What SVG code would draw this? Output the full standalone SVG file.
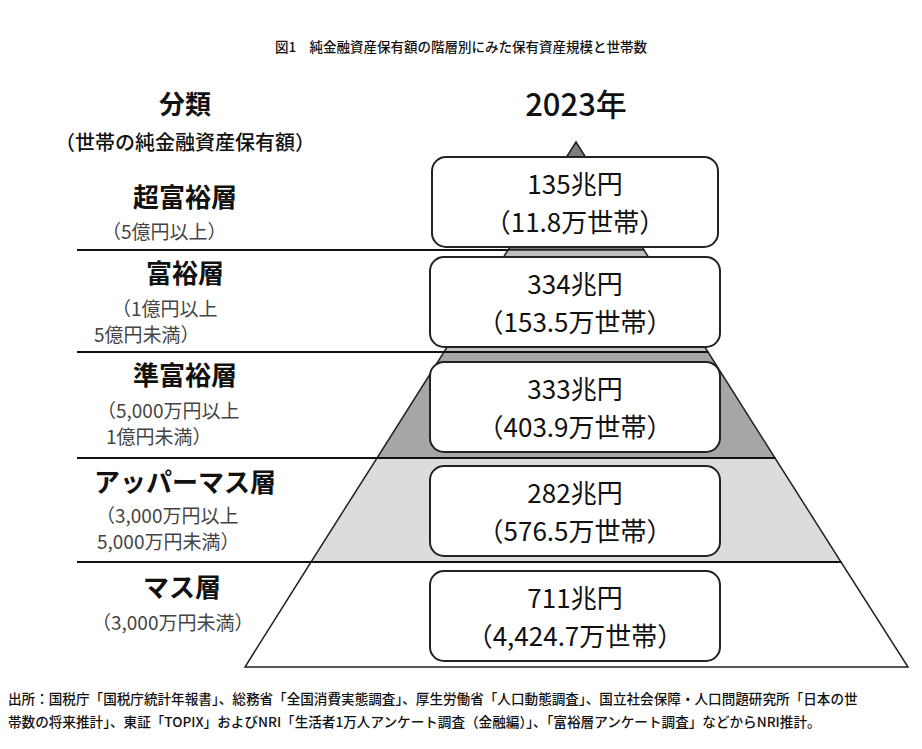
<svg xmlns="http://www.w3.org/2000/svg" width="922" height="749" viewBox="0 0 922 749">
<style>
text{font-family:"Noto Sans CJK JP","Noto Sans",sans-serif;fill:#111}
.h{font-size:26px;font-weight:bold;text-anchor:middle}
.s{font-size:19px;fill:#444}
.box{fill:#fff;stroke:#222;stroke-width:2}
.v{font-size:26px;text-anchor:middle}
.band{stroke:#222;stroke-width:1.5}
.sep{stroke:#111;stroke-width:2}
.f{font-size:13.6px;font-weight:500}
</style>
<rect width="922" height="749" fill="#fff"/>
<text x="461" y="52" font-size="13.5" font-weight="500" text-anchor="middle">図1　純金融資産保有額の階層別にみた保有資産規模と世帯数</text>
<text x="185" y="114" class="h">分類</text>
<text x="185" y="150" font-size="20" font-weight="500" text-anchor="middle">（世帯の純金融資産保有額）</text>
<text x="576" y="116" font-size="31" font-weight="500" text-anchor="middle">2023年</text>
<g id="pyramid">
<polygon class="band" fill="#7f7f7f" points="576,142 508,250 644,250"/>
<polygon class="band" fill="#c0c0c0" points="508,250 644,250 708,352 444,352"/>
<polygon class="band" fill="#a6a6a6" points="444,352 708,352 775,458 377,458"/>
<polygon class="band" fill="#dcdcdc" points="377,458 775,458 841,562 311,562"/>
<polygon class="band" fill="#fff" points="311,562 841,562 908,667 245,667"/>
</g>
<g id="connectors">
<line class="sep" x1="77" y1="250" x2="508" y2="250"/>
<line class="sep" x1="77" y1="352" x2="708" y2="352"/>
<line class="sep" x1="77" y1="458" x2="775" y2="458"/>
<line class="sep" x1="77" y1="562" x2="841" y2="562"/>
</g>
<g id="n1"><text x="185" y="207" class="h">超富裕層</text><text x="102" y="239" class="s">（5億円以上）</text>
<rect class="box" x="432" y="157" width="286" height="90" rx="14"/><text x="575" y="194" class="v">135兆円</text><text x="575" y="232" class="v">（11.8万世帯）</text></g>
<g id="n2"><text x="185" y="283" class="h">富裕層</text><text x="112" y="316" class="s">（1億円以上</text><text x="94" y="342" class="s">5億円未満）</text>
<rect class="box" x="430" y="257" width="290" height="90" rx="14"/><text x="575" y="294" class="v">334兆円</text><text x="575" y="332" class="v">（153.5万世帯）</text></g>
<g id="n3"><text x="185" y="385" class="h">準富裕層</text><text x="97" y="418" class="s">（5,000万円以上</text><text x="106" y="444" class="s">1億円未満）</text>
<rect class="box" x="430" y="362" width="290" height="90" rx="14"/><text x="575" y="399" class="v">333兆円</text><text x="575" y="437" class="v">（403.9万世帯）</text></g>
<g id="n4"><text x="185" y="492" class="h">アッパーマス層</text><text x="96" y="523" class="s">（3,000万円以上</text><text x="97" y="549" class="s">5,000万円未満）</text>
<rect class="box" x="430" y="466" width="290" height="90" rx="14"/><text x="575" y="503" class="v">282兆円</text><text x="575" y="541" class="v">（576.5万世帯）</text></g>
<g id="n5"><text x="182" y="597" class="h">マス層</text><text x="92" y="630" class="s">（3,000万円未満）</text>
<rect class="box" x="430" y="571" width="290" height="90" rx="14"/><text x="575" y="608" class="v">711兆円</text><text x="575" y="646" class="v">（4,424.7万世帯）</text></g>
<text x="8" y="704" class="f">出所：国税庁「国税庁統計年報書」、総務省「全国消費実態調査」、厚生労働省「人口動態調査」、国立社会保障・人口問題研究所「日本の世</text>
<text x="8" y="727" class="f">帯数の将来推計」、東証「TOPIX」およびNRI「生活者1万人アンケート調査（金融編）」、「富裕層アンケート調査」などからNRI推計。</text>
</svg>
